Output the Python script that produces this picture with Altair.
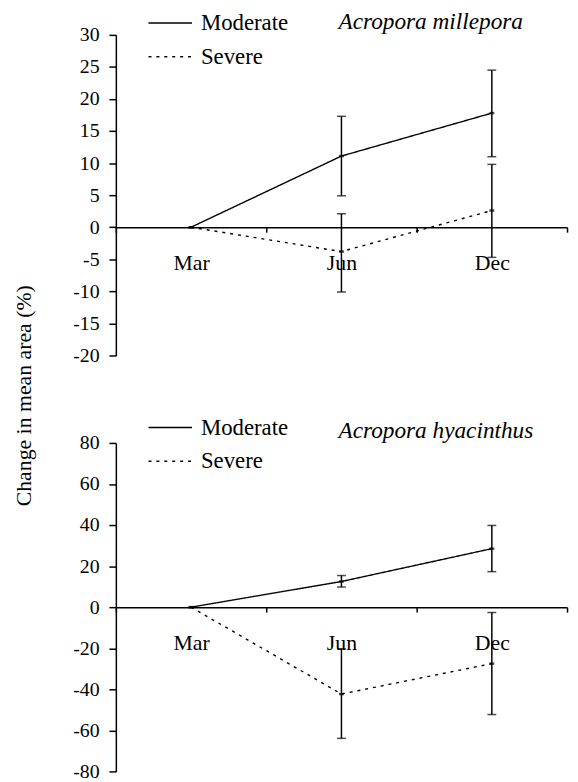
import altair as alt
import pandas as pd

months = ["Mar", "Jun", "Dec"]
series = ["Moderate", "Severe"]

# Acropora millepora
mill_mod_mean = [0.0, 11.1, 17.8]
mill_mod_lo = [None, 4.9, 11.0]
mill_mod_hi = [None, 17.3, 24.5]
mill_sev_mean = [0.0, -3.8, 2.6]
mill_sev_lo = [None, -10.1, -4.7]
mill_sev_hi = [None, 2.1, 9.8]

# Acropora hyacinthus
hya_mod_mean = [0.0, 12.5, 28.5]
hya_mod_lo = [None, 9.8, 17.3]
hya_mod_hi = [None, 15.4, 39.8]
hya_sev_mean = [0.0, -42.3, -27.5]
hya_sev_lo = [None, -63.9, -52.3]
hya_sev_hi = [None, -20.3, -2.6]

mill_ticks = [-20, -15, -10, -5, 0, 5, 10, 15, 20, 25, 30]
hya_ticks = [-80, -60, -40, -20, 0, 20, 40, 60, 80]

FONT = "Liberation Serif, Times New Roman, DejaVu Serif, serif"
W = 456


def frame(mod_mean, mod_lo, mod_hi, sev_mean, sev_lo, sev_hi):
    rows = []
    for name, m, lo, hi in [("Moderate", mod_mean, mod_lo, mod_hi),
                            ("Severe", sev_mean, sev_lo, sev_hi)]:
        for i, mo in enumerate(months):
            rows.append({"month": mo, "series": name, "mean": m[i],
                         "lo": lo[i], "hi": hi[i]})
    return pd.DataFrame(rows)


def panel(df, title, ticks, height, title_dy, legend_y):
    ymin, ymax = ticks[0], ticks[-1]
    off = -height * (0 - ymin) / (ymax - ymin)
    xscale = alt.Scale(type="band", domain=months, paddingInner=0, paddingOuter=0)
    xaxis = alt.Axis(title=None, orient="bottom", offset=off,
                     tickBand="extent", tickSize=5, labelAngle=0,
                     labelPadding=21, labelFontSize=22,
                     labelFont=FONT, labelColor="black",
                     domainColor="black", tickColor="black",
                     domainWidth=1.5, tickWidth=1.5, grid=False)
    yscale = alt.Scale(domain=[ymin, ymax], nice=False, zero=False)
    yaxis = alt.Axis(title=None, values=ticks, tickSize=7, labelPadding=10,
                     labelFontSize=20, labelFont=FONT, labelColor="black",
                     labelExpr="datum.value < 0 ? '-' + abs(datum.value) : '' + datum.value",
                     domainColor="black", tickColor="black", domainWidth=1.5,
                     tickWidth=1.5, grid=False, labelFlush=False)

    def X():
        return alt.X("month:N", sort=months, bandPosition=0.5, scale=xscale,
                     axis=xaxis, title=None)

    def Y(f):
        return alt.Y(f + ":Q", scale=yscale, axis=yaxis, title=None)

    dash = alt.StrokeDash("series:N",
                          scale=alt.Scale(domain=series, range=[[1, 0], [3, 5]]),
                          legend=alt.Legend(title=None, orient="none",
                                            legendX=43.5, legendY=legend_y,
                                            symbolType="M-4,0H4",
                                            symbolSize=121,
                                            symbolStrokeWidth=1.5,
                                            symbolStrokeColor="black",
                                            labelFontSize=23, labelFont=FONT,
                                            labelColor="black", labelOffset=19.5,
                                            rowPadding=10))
    base = alt.Chart(df)
    line = base.mark_line(color="black", strokeWidth=1.4).encode(
        x=X(), y=Y("mean"), strokeDash=dash)
    has_err = base.transform_filter("datum.lo != null")
    eb = has_err.mark_rule(color="black", strokeWidth=1.5).encode(
        x=X(), y=Y("lo"), y2="hi:Q")
    cap_lo = has_err.mark_tick(color="black", size=9, thickness=1.5).encode(
        x=X(), y=Y("lo"))
    cap_hi = has_err.mark_tick(color="black", size=9, thickness=1.5).encode(
        x=X(), y=Y("hi"))
    pt = base.mark_tick(color="black", size=5, thickness=2.5).encode(
        x=X(), y=Y("mean"))
    return alt.layer(line, eb, cap_lo, cap_hi, pt).properties(
        width=W, height=height,
        title=alt.TitleParams(title, font=FONT, fontSize=23.5, fontStyle="italic",
                              fontWeight="normal", color="black",
                              anchor="start", frame="group", dx=225, dy=title_dy,
                              offset=2))


top = panel(frame(mill_mod_mean, mill_mod_lo, mill_mod_hi,
                  mill_sev_mean, mill_sev_lo, mill_sev_hi),
            "Acropora millepora", mill_ticks, 324, 24, -23.4)
bottom = panel(frame(hya_mod_mean, hya_mod_lo, hya_mod_hi,
                     hya_sev_mean, hya_sev_lo, hya_sev_hi),
               "Acropora hyacinthus", hya_ticks, 332, 29, -27)

chart = alt.vconcat(top, bottom, spacing=51.4).resolve_legend(
    strokeDash="independent").resolve_scale(y="independent").properties(
    title=alt.TitleParams("Change in mean area (%)", orient="left",
                          anchor="middle", font=FONT, fontSize=22,
                          fontWeight="normal", color="black", offset=37),
    padding={"left": 5, "top": -2, "right": 2, "bottom": 2}
).configure_view(stroke=None)

chart.save("out.html", embed_options={"renderer": "svg", "actions": False})
